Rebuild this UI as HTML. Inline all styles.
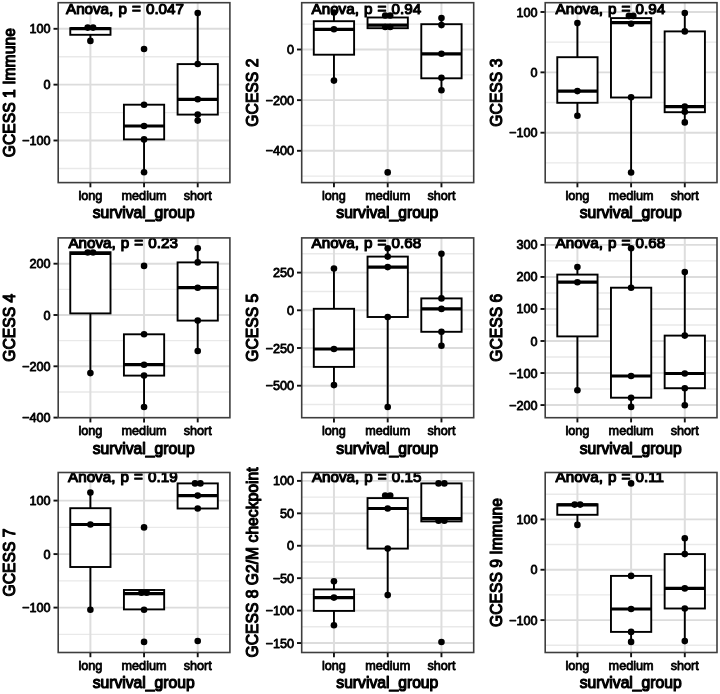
<!DOCTYPE html><html><head><meta charset="utf-8"><title>GCESS boxplots</title>
<style>html,body{margin:0;padding:0;background:#fff}svg{display:block}text{font-family:"Liberation Sans",Arial,Helvetica,sans-serif;fill:#000;stroke:#000;stroke-width:0.8px;stroke-linejoin:round}text.T,text.an{stroke-width:1.15px}</style></head><body>
<svg width="720" height="694" viewBox="0 0 720 694">
<rect width="720" height="694" fill="#fff"/>
<g>
<g id="p1">
<clipPath id="c0"><rect x="58.2" y="2.7" width="171.70" height="179.90"/></clipPath>
<g clip-path="url(#c0)">
<line x1="58.2" x2="229.9" y1="56.73" y2="56.73" stroke="#e9e9e9" stroke-width="1.4"/>
<line x1="58.2" x2="229.9" y1="112.58" y2="112.58" stroke="#e9e9e9" stroke-width="1.4"/>
<line x1="58.2" x2="229.9" y1="168.43" y2="168.43" stroke="#e9e9e9" stroke-width="1.4"/>
<line x1="58.2" x2="229.9" y1="28.80" y2="28.80" stroke="#dcdcdc" stroke-width="1.9"/>
<line x1="58.2" x2="229.9" y1="84.65" y2="84.65" stroke="#dcdcdc" stroke-width="1.9"/>
<line x1="58.2" x2="229.9" y1="140.50" y2="140.50" stroke="#dcdcdc" stroke-width="1.9"/>
<line x1="90.39" x2="90.39" y1="2.7" y2="182.6" stroke="#dddddd" stroke-width="2.0"/>
<line x1="144.05" x2="144.05" y1="2.7" y2="182.6" stroke="#dddddd" stroke-width="2.0"/>
<line x1="197.71" x2="197.71" y1="2.7" y2="182.6" stroke="#dddddd" stroke-width="2.0"/>
<line x1="90.39" x2="90.39" y1="34.80" y2="40.90" stroke="#000" stroke-width="1.9"/>
<rect x="70.27" y="28.20" width="40.24" height="6.60" fill="#fff" stroke="#000" stroke-width="1.9"/>
<line x1="70.27" x2="110.51" y1="28.60" y2="28.60" stroke="#000" stroke-width="3.2"/>
<line x1="144.05" x2="144.05" y1="139.40" y2="172.30" stroke="#000" stroke-width="1.9"/>
<rect x="123.93" y="104.70" width="40.24" height="34.70" fill="#fff" stroke="#000" stroke-width="1.9"/>
<line x1="123.93" x2="164.17" y1="126.00" y2="126.00" stroke="#000" stroke-width="3.2"/>
<line x1="197.71" x2="197.71" y1="13.00" y2="64.10" stroke="#000" stroke-width="1.9"/>
<line x1="197.71" x2="197.71" y1="114.60" y2="120.60" stroke="#000" stroke-width="1.9"/>
<rect x="177.59" y="64.10" width="40.24" height="50.50" fill="#fff" stroke="#000" stroke-width="1.9"/>
<line x1="177.59" x2="217.83" y1="99.40" y2="99.40" stroke="#000" stroke-width="3.2"/>
<circle cx="87.69" cy="27.60" r="3.3" fill="#000"/>
<circle cx="93.09" cy="27.60" r="3.3" fill="#000"/>
<circle cx="90.39" cy="40.90" r="3.3" fill="#000"/>
<circle cx="144.05" cy="49.00" r="3.3" fill="#000"/>
<circle cx="144.05" cy="104.70" r="3.3" fill="#000"/>
<circle cx="144.05" cy="126.00" r="3.3" fill="#000"/>
<circle cx="144.05" cy="139.40" r="3.3" fill="#000"/>
<circle cx="144.05" cy="172.30" r="3.3" fill="#000"/>
<circle cx="197.71" cy="13.00" r="3.3" fill="#000"/>
<circle cx="197.71" cy="64.00" r="3.3" fill="#000"/>
<circle cx="197.71" cy="99.30" r="3.3" fill="#000"/>
<circle cx="197.71" cy="114.60" r="3.3" fill="#000"/>
<circle cx="197.71" cy="120.60" r="3.3" fill="#000"/>
<text x="66.0" y="13.70" font-size="15.2" word-spacing="0.9" class="an">Anova, p = 0.047</text>
</g>
<rect x="58.2" y="2.7" width="171.70" height="179.90" fill="none" stroke="#3e3e3e" stroke-width="1.6"/>
<line x1="53.50" x2="57.70" y1="28.80" y2="28.80" stroke="#111" stroke-width="1.9"/>
<text x="50.60" y="33.30" font-size="12.65" text-anchor="end">100</text>
<line x1="53.50" x2="57.70" y1="84.65" y2="84.65" stroke="#111" stroke-width="1.9"/>
<text x="50.60" y="89.15" font-size="12.65" text-anchor="end">0</text>
<line x1="53.50" x2="57.70" y1="140.50" y2="140.50" stroke="#111" stroke-width="1.9"/>
<text x="50.60" y="145.00" font-size="12.65" text-anchor="end">−100</text>
<line x1="90.39" x2="90.39" y1="183.10" y2="187.30" stroke="#111" stroke-width="1.9"/>
<text x="90.39" y="199.60" font-size="12.65" text-anchor="middle">long</text>
<line x1="144.05" x2="144.05" y1="183.10" y2="187.30" stroke="#111" stroke-width="1.9"/>
<text x="144.05" y="199.60" font-size="12.65" text-anchor="middle">medium</text>
<line x1="197.71" x2="197.71" y1="183.10" y2="187.30" stroke="#111" stroke-width="1.9"/>
<text x="197.71" y="199.60" font-size="12.65" text-anchor="middle">short</text>
<text x="143.65" y="218.40" font-size="15.7" text-anchor="middle" class="T">survival_group</text>
<text transform="translate(14.7,92.65) rotate(-90)" font-size="15.7" text-anchor="middle" class="T">GCESS 1 Immune</text>
</g>
<g id="p2">
<clipPath id="c1"><rect x="301.7" y="2.7" width="172.00" height="179.90"/></clipPath>
<g clip-path="url(#c1)">
<line x1="301.7" x2="473.7" y1="24.17" y2="24.17" stroke="#e9e9e9" stroke-width="1.4"/>
<line x1="301.7" x2="473.7" y1="74.83" y2="74.83" stroke="#e9e9e9" stroke-width="1.4"/>
<line x1="301.7" x2="473.7" y1="125.48" y2="125.48" stroke="#e9e9e9" stroke-width="1.4"/>
<line x1="301.7" x2="473.7" y1="176.12" y2="176.12" stroke="#e9e9e9" stroke-width="1.4"/>
<line x1="301.7" x2="473.7" y1="49.50" y2="49.50" stroke="#dcdcdc" stroke-width="1.9"/>
<line x1="301.7" x2="473.7" y1="100.15" y2="100.15" stroke="#dcdcdc" stroke-width="1.9"/>
<line x1="301.7" x2="473.7" y1="150.80" y2="150.80" stroke="#dcdcdc" stroke-width="1.9"/>
<line x1="333.95" x2="333.95" y1="2.7" y2="182.6" stroke="#dddddd" stroke-width="2.0"/>
<line x1="387.70" x2="387.70" y1="2.7" y2="182.6" stroke="#dddddd" stroke-width="2.0"/>
<line x1="441.45" x2="441.45" y1="2.7" y2="182.6" stroke="#dddddd" stroke-width="2.0"/>
<line x1="333.95" x2="333.95" y1="12.50" y2="21.20" stroke="#000" stroke-width="1.9"/>
<line x1="333.95" x2="333.95" y1="54.70" y2="80.60" stroke="#000" stroke-width="1.9"/>
<rect x="313.79" y="21.20" width="40.31" height="33.50" fill="#fff" stroke="#000" stroke-width="1.9"/>
<line x1="313.79" x2="354.11" y1="29.30" y2="29.30" stroke="#000" stroke-width="3.2"/>
<line x1="387.70" x2="387.70" y1="15.50" y2="17.50" stroke="#000" stroke-width="1.9"/>
<rect x="367.54" y="17.50" width="40.31" height="10.70" fill="#fff" stroke="#000" stroke-width="1.9"/>
<line x1="367.54" x2="407.86" y1="25.20" y2="25.20" stroke="#000" stroke-width="3.2"/>
<line x1="441.45" x2="441.45" y1="18.10" y2="24.20" stroke="#000" stroke-width="1.9"/>
<line x1="441.45" x2="441.45" y1="78.30" y2="90.30" stroke="#000" stroke-width="1.9"/>
<rect x="421.29" y="24.20" width="40.31" height="54.10" fill="#fff" stroke="#000" stroke-width="1.9"/>
<line x1="421.29" x2="461.61" y1="53.80" y2="53.80" stroke="#000" stroke-width="3.2"/>
<circle cx="333.95" cy="12.50" r="3.3" fill="#000"/>
<circle cx="333.95" cy="29.30" r="3.3" fill="#000"/>
<circle cx="333.95" cy="80.60" r="3.3" fill="#000"/>
<circle cx="385.20" cy="15.50" r="3.3" fill="#000"/>
<circle cx="390.20" cy="15.50" r="3.3" fill="#000"/>
<circle cx="385.20" cy="27.00" r="3.3" fill="#000"/>
<circle cx="390.20" cy="27.00" r="3.3" fill="#000"/>
<circle cx="387.70" cy="172.40" r="3.3" fill="#000"/>
<circle cx="441.45" cy="18.10" r="3.3" fill="#000"/>
<circle cx="441.45" cy="25.10" r="3.3" fill="#000"/>
<circle cx="441.45" cy="53.80" r="3.3" fill="#000"/>
<circle cx="441.45" cy="77.80" r="3.3" fill="#000"/>
<circle cx="441.45" cy="90.30" r="3.3" fill="#000"/>
<text x="311.6" y="13.70" font-size="15.2" word-spacing="0.9" class="an">Anova, p = 0.94</text>
</g>
<rect x="301.7" y="2.7" width="172.00" height="179.90" fill="none" stroke="#3e3e3e" stroke-width="1.6"/>
<line x1="297.00" x2="301.20" y1="49.50" y2="49.50" stroke="#111" stroke-width="1.9"/>
<text x="294.10" y="54.00" font-size="12.65" text-anchor="end">0</text>
<line x1="297.00" x2="301.20" y1="100.15" y2="100.15" stroke="#111" stroke-width="1.9"/>
<text x="294.10" y="104.65" font-size="12.65" text-anchor="end">−200</text>
<line x1="297.00" x2="301.20" y1="150.80" y2="150.80" stroke="#111" stroke-width="1.9"/>
<text x="294.10" y="155.30" font-size="12.65" text-anchor="end">−400</text>
<line x1="333.95" x2="333.95" y1="183.10" y2="187.30" stroke="#111" stroke-width="1.9"/>
<text x="333.95" y="199.60" font-size="12.65" text-anchor="middle">long</text>
<line x1="387.70" x2="387.70" y1="183.10" y2="187.30" stroke="#111" stroke-width="1.9"/>
<text x="387.70" y="199.60" font-size="12.65" text-anchor="middle">medium</text>
<line x1="441.45" x2="441.45" y1="183.10" y2="187.30" stroke="#111" stroke-width="1.9"/>
<text x="441.45" y="199.60" font-size="12.65" text-anchor="middle">short</text>
<text x="387.30" y="218.40" font-size="15.7" text-anchor="middle" class="T">survival_group</text>
<text transform="translate(257.6,92.65) rotate(-90)" font-size="15.7" text-anchor="middle" class="T">GCESS 2</text>
</g>
<g id="p3">
<clipPath id="c2"><rect x="545.2" y="2.7" width="171.80" height="179.90"/></clipPath>
<g clip-path="url(#c2)">
<line x1="545.2" x2="717.0" y1="42.17" y2="42.17" stroke="#e9e9e9" stroke-width="1.4"/>
<line x1="545.2" x2="717.0" y1="102.53" y2="102.53" stroke="#e9e9e9" stroke-width="1.4"/>
<line x1="545.2" x2="717.0" y1="162.87" y2="162.87" stroke="#e9e9e9" stroke-width="1.4"/>
<line x1="545.2" x2="717.0" y1="12.00" y2="12.00" stroke="#dcdcdc" stroke-width="1.9"/>
<line x1="545.2" x2="717.0" y1="72.35" y2="72.35" stroke="#dcdcdc" stroke-width="1.9"/>
<line x1="545.2" x2="717.0" y1="132.70" y2="132.70" stroke="#dcdcdc" stroke-width="1.9"/>
<line x1="577.41" x2="577.41" y1="2.7" y2="182.6" stroke="#dddddd" stroke-width="2.0"/>
<line x1="631.10" x2="631.10" y1="2.7" y2="182.6" stroke="#dddddd" stroke-width="2.0"/>
<line x1="684.79" x2="684.79" y1="2.7" y2="182.6" stroke="#dddddd" stroke-width="2.0"/>
<line x1="577.41" x2="577.41" y1="23.10" y2="57.20" stroke="#000" stroke-width="1.9"/>
<line x1="577.41" x2="577.41" y1="102.80" y2="115.70" stroke="#000" stroke-width="1.9"/>
<rect x="557.28" y="57.20" width="40.27" height="45.60" fill="#fff" stroke="#000" stroke-width="1.9"/>
<line x1="557.28" x2="597.55" y1="91.10" y2="91.10" stroke="#000" stroke-width="3.2"/>
<line x1="631.10" x2="631.10" y1="15.90" y2="18.10" stroke="#000" stroke-width="1.9"/>
<line x1="631.10" x2="631.10" y1="97.50" y2="172.50" stroke="#000" stroke-width="1.9"/>
<rect x="610.97" y="18.10" width="40.27" height="79.40" fill="#fff" stroke="#000" stroke-width="1.9"/>
<line x1="610.97" x2="651.23" y1="22.60" y2="22.60" stroke="#000" stroke-width="3.2"/>
<line x1="684.79" x2="684.79" y1="13.00" y2="31.40" stroke="#000" stroke-width="1.9"/>
<line x1="684.79" x2="684.79" y1="112.20" y2="122.40" stroke="#000" stroke-width="1.9"/>
<rect x="664.65" y="31.40" width="40.27" height="80.80" fill="#fff" stroke="#000" stroke-width="1.9"/>
<line x1="664.65" x2="704.92" y1="106.60" y2="106.60" stroke="#000" stroke-width="3.2"/>
<circle cx="577.41" cy="23.10" r="3.3" fill="#000"/>
<circle cx="577.41" cy="91.10" r="3.3" fill="#000"/>
<circle cx="577.41" cy="115.70" r="3.3" fill="#000"/>
<circle cx="628.90" cy="15.90" r="3.3" fill="#000"/>
<circle cx="633.30" cy="15.90" r="3.3" fill="#000"/>
<circle cx="631.10" cy="23.70" r="3.3" fill="#000"/>
<circle cx="631.10" cy="97.30" r="3.3" fill="#000"/>
<circle cx="631.10" cy="172.50" r="3.3" fill="#000"/>
<circle cx="684.79" cy="13.00" r="3.3" fill="#000"/>
<circle cx="684.79" cy="31.40" r="3.3" fill="#000"/>
<circle cx="684.79" cy="106.50" r="3.3" fill="#000"/>
<circle cx="684.79" cy="111.80" r="3.3" fill="#000"/>
<circle cx="684.79" cy="122.40" r="3.3" fill="#000"/>
<text x="555.6" y="13.70" font-size="15.2" word-spacing="0.9" class="an">Anova, p = 0.94</text>
</g>
<rect x="545.2" y="2.7" width="171.80" height="179.90" fill="none" stroke="#3e3e3e" stroke-width="1.6"/>
<line x1="540.50" x2="544.70" y1="12.00" y2="12.00" stroke="#111" stroke-width="1.9"/>
<text x="537.60" y="16.50" font-size="12.65" text-anchor="end">100</text>
<line x1="540.50" x2="544.70" y1="72.35" y2="72.35" stroke="#111" stroke-width="1.9"/>
<text x="537.60" y="76.85" font-size="12.65" text-anchor="end">0</text>
<line x1="540.50" x2="544.70" y1="132.70" y2="132.70" stroke="#111" stroke-width="1.9"/>
<text x="537.60" y="137.20" font-size="12.65" text-anchor="end">−100</text>
<line x1="577.41" x2="577.41" y1="183.10" y2="187.30" stroke="#111" stroke-width="1.9"/>
<text x="577.41" y="199.60" font-size="12.65" text-anchor="middle">long</text>
<line x1="631.10" x2="631.10" y1="183.10" y2="187.30" stroke="#111" stroke-width="1.9"/>
<text x="631.10" y="199.60" font-size="12.65" text-anchor="middle">medium</text>
<line x1="684.79" x2="684.79" y1="183.10" y2="187.30" stroke="#111" stroke-width="1.9"/>
<text x="684.79" y="199.60" font-size="12.65" text-anchor="middle">short</text>
<text x="630.70" y="218.40" font-size="15.7" text-anchor="middle" class="T">survival_group</text>
<text transform="translate(501.7,92.65) rotate(-90)" font-size="15.7" text-anchor="middle" class="T">GCESS 3</text>
</g>
<g id="p4">
<clipPath id="c3"><rect x="58.2" y="237.9" width="171.70" height="179.80"/></clipPath>
<g clip-path="url(#c3)">
<line x1="58.2" x2="229.9" y1="289.35" y2="289.35" stroke="#e9e9e9" stroke-width="1.4"/>
<line x1="58.2" x2="229.9" y1="340.65" y2="340.65" stroke="#e9e9e9" stroke-width="1.4"/>
<line x1="58.2" x2="229.9" y1="391.95" y2="391.95" stroke="#e9e9e9" stroke-width="1.4"/>
<line x1="58.2" x2="229.9" y1="263.70" y2="263.70" stroke="#dcdcdc" stroke-width="1.9"/>
<line x1="58.2" x2="229.9" y1="315.00" y2="315.00" stroke="#dcdcdc" stroke-width="1.9"/>
<line x1="58.2" x2="229.9" y1="366.30" y2="366.30" stroke="#dcdcdc" stroke-width="1.9"/>
<line x1="58.2" x2="229.9" y1="417.60" y2="417.60" stroke="#dcdcdc" stroke-width="1.9"/>
<line x1="90.39" x2="90.39" y1="237.9" y2="417.7" stroke="#dddddd" stroke-width="2.0"/>
<line x1="144.05" x2="144.05" y1="237.9" y2="417.7" stroke="#dddddd" stroke-width="2.0"/>
<line x1="197.71" x2="197.71" y1="237.9" y2="417.7" stroke="#dddddd" stroke-width="2.0"/>
<line x1="90.39" x2="90.39" y1="313.40" y2="373.10" stroke="#000" stroke-width="1.9"/>
<rect x="70.27" y="252.20" width="40.24" height="61.20" fill="#fff" stroke="#000" stroke-width="1.9"/>
<line x1="70.27" x2="110.51" y1="253.50" y2="253.50" stroke="#000" stroke-width="3.2"/>
<line x1="144.05" x2="144.05" y1="375.60" y2="407.00" stroke="#000" stroke-width="1.9"/>
<rect x="123.93" y="334.30" width="40.24" height="41.30" fill="#fff" stroke="#000" stroke-width="1.9"/>
<line x1="123.93" x2="164.17" y1="364.70" y2="364.70" stroke="#000" stroke-width="3.2"/>
<line x1="197.71" x2="197.71" y1="248.20" y2="262.40" stroke="#000" stroke-width="1.9"/>
<line x1="197.71" x2="197.71" y1="320.60" y2="351.00" stroke="#000" stroke-width="1.9"/>
<rect x="177.59" y="262.40" width="40.24" height="58.20" fill="#fff" stroke="#000" stroke-width="1.9"/>
<line x1="177.59" x2="217.83" y1="287.70" y2="287.70" stroke="#000" stroke-width="3.2"/>
<circle cx="87.69" cy="252.50" r="3.3" fill="#000"/>
<circle cx="93.09" cy="252.50" r="3.3" fill="#000"/>
<circle cx="90.39" cy="373.10" r="3.3" fill="#000"/>
<circle cx="144.05" cy="265.90" r="3.3" fill="#000"/>
<circle cx="144.05" cy="334.30" r="3.3" fill="#000"/>
<circle cx="144.05" cy="364.70" r="3.3" fill="#000"/>
<circle cx="144.05" cy="375.60" r="3.3" fill="#000"/>
<circle cx="144.05" cy="407.00" r="3.3" fill="#000"/>
<circle cx="197.71" cy="248.20" r="3.3" fill="#000"/>
<circle cx="197.71" cy="262.40" r="3.3" fill="#000"/>
<circle cx="197.71" cy="287.70" r="3.3" fill="#000"/>
<circle cx="197.71" cy="320.60" r="3.3" fill="#000"/>
<circle cx="197.71" cy="351.00" r="3.3" fill="#000"/>
<text x="68.4" y="248.40" font-size="15.2" word-spacing="0.9" class="an">Anova, p = 0.23</text>
</g>
<rect x="58.2" y="237.9" width="171.70" height="179.80" fill="none" stroke="#3e3e3e" stroke-width="1.6"/>
<line x1="53.50" x2="57.70" y1="263.70" y2="263.70" stroke="#111" stroke-width="1.9"/>
<text x="50.60" y="268.20" font-size="12.65" text-anchor="end">200</text>
<line x1="53.50" x2="57.70" y1="315.00" y2="315.00" stroke="#111" stroke-width="1.9"/>
<text x="50.60" y="319.50" font-size="12.65" text-anchor="end">0</text>
<line x1="53.50" x2="57.70" y1="366.30" y2="366.30" stroke="#111" stroke-width="1.9"/>
<text x="50.60" y="370.80" font-size="12.65" text-anchor="end">−200</text>
<line x1="53.50" x2="57.70" y1="417.60" y2="417.60" stroke="#111" stroke-width="1.9"/>
<text x="50.60" y="422.10" font-size="12.65" text-anchor="end">−400</text>
<line x1="90.39" x2="90.39" y1="418.20" y2="422.40" stroke="#111" stroke-width="1.9"/>
<text x="90.39" y="434.80" font-size="12.65" text-anchor="middle">long</text>
<line x1="144.05" x2="144.05" y1="418.20" y2="422.40" stroke="#111" stroke-width="1.9"/>
<text x="144.05" y="434.80" font-size="12.65" text-anchor="middle">medium</text>
<line x1="197.71" x2="197.71" y1="418.20" y2="422.40" stroke="#111" stroke-width="1.9"/>
<text x="197.71" y="434.80" font-size="12.65" text-anchor="middle">short</text>
<text x="143.65" y="453.90" font-size="15.7" text-anchor="middle" class="T">survival_group</text>
<text transform="translate(14.7,327.80) rotate(-90)" font-size="15.7" text-anchor="middle" class="T">GCESS 4</text>
</g>
<g id="p5">
<clipPath id="c4"><rect x="301.7" y="237.9" width="172.00" height="179.80"/></clipPath>
<g clip-path="url(#c4)">
<line x1="301.7" x2="473.7" y1="253.75" y2="253.75" stroke="#e9e9e9" stroke-width="1.4"/>
<line x1="301.7" x2="473.7" y1="291.45" y2="291.45" stroke="#e9e9e9" stroke-width="1.4"/>
<line x1="301.7" x2="473.7" y1="329.15" y2="329.15" stroke="#e9e9e9" stroke-width="1.4"/>
<line x1="301.7" x2="473.7" y1="366.85" y2="366.85" stroke="#e9e9e9" stroke-width="1.4"/>
<line x1="301.7" x2="473.7" y1="404.55" y2="404.55" stroke="#e9e9e9" stroke-width="1.4"/>
<line x1="301.7" x2="473.7" y1="272.60" y2="272.60" stroke="#dcdcdc" stroke-width="1.9"/>
<line x1="301.7" x2="473.7" y1="310.30" y2="310.30" stroke="#dcdcdc" stroke-width="1.9"/>
<line x1="301.7" x2="473.7" y1="348.00" y2="348.00" stroke="#dcdcdc" stroke-width="1.9"/>
<line x1="301.7" x2="473.7" y1="385.70" y2="385.70" stroke="#dcdcdc" stroke-width="1.9"/>
<line x1="333.95" x2="333.95" y1="237.9" y2="417.7" stroke="#dddddd" stroke-width="2.0"/>
<line x1="387.70" x2="387.70" y1="237.9" y2="417.7" stroke="#dddddd" stroke-width="2.0"/>
<line x1="441.45" x2="441.45" y1="237.9" y2="417.7" stroke="#dddddd" stroke-width="2.0"/>
<line x1="333.95" x2="333.95" y1="268.50" y2="308.80" stroke="#000" stroke-width="1.9"/>
<line x1="333.95" x2="333.95" y1="366.90" y2="385.10" stroke="#000" stroke-width="1.9"/>
<rect x="313.79" y="308.80" width="40.31" height="58.10" fill="#fff" stroke="#000" stroke-width="1.9"/>
<line x1="313.79" x2="354.11" y1="349.00" y2="349.00" stroke="#000" stroke-width="3.2"/>
<line x1="387.70" x2="387.70" y1="248.20" y2="256.60" stroke="#000" stroke-width="1.9"/>
<line x1="387.70" x2="387.70" y1="317.00" y2="407.00" stroke="#000" stroke-width="1.9"/>
<rect x="367.54" y="256.60" width="40.31" height="60.40" fill="#fff" stroke="#000" stroke-width="1.9"/>
<line x1="367.54" x2="407.86" y1="267.10" y2="267.10" stroke="#000" stroke-width="3.2"/>
<line x1="441.45" x2="441.45" y1="253.70" y2="298.40" stroke="#000" stroke-width="1.9"/>
<line x1="441.45" x2="441.45" y1="331.80" y2="345.70" stroke="#000" stroke-width="1.9"/>
<rect x="421.29" y="298.40" width="40.31" height="33.40" fill="#fff" stroke="#000" stroke-width="1.9"/>
<line x1="421.29" x2="461.61" y1="308.90" y2="308.90" stroke="#000" stroke-width="3.2"/>
<circle cx="333.95" cy="268.50" r="3.3" fill="#000"/>
<circle cx="333.95" cy="349.00" r="3.3" fill="#000"/>
<circle cx="333.95" cy="385.10" r="3.3" fill="#000"/>
<circle cx="387.70" cy="248.20" r="3.3" fill="#000"/>
<circle cx="387.70" cy="256.60" r="3.3" fill="#000"/>
<circle cx="387.70" cy="267.10" r="3.3" fill="#000"/>
<circle cx="387.70" cy="317.00" r="3.3" fill="#000"/>
<circle cx="387.70" cy="407.00" r="3.3" fill="#000"/>
<circle cx="441.45" cy="253.70" r="3.3" fill="#000"/>
<circle cx="441.45" cy="298.40" r="3.3" fill="#000"/>
<circle cx="441.45" cy="308.90" r="3.3" fill="#000"/>
<circle cx="441.45" cy="331.80" r="3.3" fill="#000"/>
<circle cx="441.45" cy="345.70" r="3.3" fill="#000"/>
<text x="311.6" y="248.40" font-size="15.2" word-spacing="0.9" class="an">Anova, p = 0.68</text>
</g>
<rect x="301.7" y="237.9" width="172.00" height="179.80" fill="none" stroke="#3e3e3e" stroke-width="1.6"/>
<line x1="297.00" x2="301.20" y1="272.60" y2="272.60" stroke="#111" stroke-width="1.9"/>
<text x="294.10" y="277.10" font-size="12.65" text-anchor="end">250</text>
<line x1="297.00" x2="301.20" y1="310.30" y2="310.30" stroke="#111" stroke-width="1.9"/>
<text x="294.10" y="314.80" font-size="12.65" text-anchor="end">0</text>
<line x1="297.00" x2="301.20" y1="348.00" y2="348.00" stroke="#111" stroke-width="1.9"/>
<text x="294.10" y="352.50" font-size="12.65" text-anchor="end">−250</text>
<line x1="297.00" x2="301.20" y1="385.70" y2="385.70" stroke="#111" stroke-width="1.9"/>
<text x="294.10" y="390.20" font-size="12.65" text-anchor="end">−500</text>
<line x1="333.95" x2="333.95" y1="418.20" y2="422.40" stroke="#111" stroke-width="1.9"/>
<text x="333.95" y="434.80" font-size="12.65" text-anchor="middle">long</text>
<line x1="387.70" x2="387.70" y1="418.20" y2="422.40" stroke="#111" stroke-width="1.9"/>
<text x="387.70" y="434.80" font-size="12.65" text-anchor="middle">medium</text>
<line x1="441.45" x2="441.45" y1="418.20" y2="422.40" stroke="#111" stroke-width="1.9"/>
<text x="441.45" y="434.80" font-size="12.65" text-anchor="middle">short</text>
<text x="387.30" y="453.90" font-size="15.7" text-anchor="middle" class="T">survival_group</text>
<text transform="translate(257.6,327.80) rotate(-90)" font-size="15.7" text-anchor="middle" class="T">GCESS 5</text>
</g>
<g id="p6">
<clipPath id="c5"><rect x="545.2" y="237.9" width="171.80" height="179.80"/></clipPath>
<g clip-path="url(#c5)">
<line x1="545.2" x2="717.0" y1="260.92" y2="260.92" stroke="#e9e9e9" stroke-width="1.4"/>
<line x1="545.2" x2="717.0" y1="292.95" y2="292.95" stroke="#e9e9e9" stroke-width="1.4"/>
<line x1="545.2" x2="717.0" y1="324.98" y2="324.98" stroke="#e9e9e9" stroke-width="1.4"/>
<line x1="545.2" x2="717.0" y1="357.02" y2="357.02" stroke="#e9e9e9" stroke-width="1.4"/>
<line x1="545.2" x2="717.0" y1="389.05" y2="389.05" stroke="#e9e9e9" stroke-width="1.4"/>
<line x1="545.2" x2="717.0" y1="244.90" y2="244.90" stroke="#dcdcdc" stroke-width="1.9"/>
<line x1="545.2" x2="717.0" y1="276.93" y2="276.93" stroke="#dcdcdc" stroke-width="1.9"/>
<line x1="545.2" x2="717.0" y1="308.97" y2="308.97" stroke="#dcdcdc" stroke-width="1.9"/>
<line x1="545.2" x2="717.0" y1="341.00" y2="341.00" stroke="#dcdcdc" stroke-width="1.9"/>
<line x1="545.2" x2="717.0" y1="373.03" y2="373.03" stroke="#dcdcdc" stroke-width="1.9"/>
<line x1="545.2" x2="717.0" y1="405.07" y2="405.07" stroke="#dcdcdc" stroke-width="1.9"/>
<line x1="577.41" x2="577.41" y1="237.9" y2="417.7" stroke="#dddddd" stroke-width="2.0"/>
<line x1="631.10" x2="631.10" y1="237.9" y2="417.7" stroke="#dddddd" stroke-width="2.0"/>
<line x1="684.79" x2="684.79" y1="237.9" y2="417.7" stroke="#dddddd" stroke-width="2.0"/>
<line x1="577.41" x2="577.41" y1="267.10" y2="274.60" stroke="#000" stroke-width="1.9"/>
<line x1="577.41" x2="577.41" y1="336.40" y2="390.20" stroke="#000" stroke-width="1.9"/>
<rect x="557.28" y="274.60" width="40.27" height="61.80" fill="#fff" stroke="#000" stroke-width="1.9"/>
<line x1="557.28" x2="597.55" y1="282.20" y2="282.20" stroke="#000" stroke-width="3.2"/>
<line x1="631.10" x2="631.10" y1="248.20" y2="287.70" stroke="#000" stroke-width="1.9"/>
<line x1="631.10" x2="631.10" y1="397.70" y2="406.90" stroke="#000" stroke-width="1.9"/>
<rect x="610.97" y="287.70" width="40.27" height="110.00" fill="#fff" stroke="#000" stroke-width="1.9"/>
<line x1="610.97" x2="651.23" y1="376.00" y2="376.00" stroke="#000" stroke-width="3.2"/>
<line x1="684.79" x2="684.79" y1="272.10" y2="335.60" stroke="#000" stroke-width="1.9"/>
<line x1="684.79" x2="684.79" y1="388.20" y2="405.30" stroke="#000" stroke-width="1.9"/>
<rect x="664.65" y="335.60" width="40.27" height="52.60" fill="#fff" stroke="#000" stroke-width="1.9"/>
<line x1="664.65" x2="704.92" y1="373.50" y2="373.50" stroke="#000" stroke-width="3.2"/>
<circle cx="577.41" cy="267.10" r="3.3" fill="#000"/>
<circle cx="577.41" cy="282.20" r="3.3" fill="#000"/>
<circle cx="577.41" cy="390.20" r="3.3" fill="#000"/>
<circle cx="631.10" cy="248.20" r="3.3" fill="#000"/>
<circle cx="631.10" cy="287.70" r="3.3" fill="#000"/>
<circle cx="631.10" cy="376.00" r="3.3" fill="#000"/>
<circle cx="631.10" cy="397.70" r="3.3" fill="#000"/>
<circle cx="631.10" cy="406.90" r="3.3" fill="#000"/>
<circle cx="684.79" cy="272.10" r="3.3" fill="#000"/>
<circle cx="684.79" cy="335.60" r="3.3" fill="#000"/>
<circle cx="684.79" cy="373.50" r="3.3" fill="#000"/>
<circle cx="684.79" cy="388.20" r="3.3" fill="#000"/>
<circle cx="684.79" cy="405.30" r="3.3" fill="#000"/>
<text x="555.6" y="248.40" font-size="15.2" word-spacing="0.9" class="an">Anova, p = 0.68</text>
</g>
<rect x="545.2" y="237.9" width="171.80" height="179.80" fill="none" stroke="#3e3e3e" stroke-width="1.6"/>
<line x1="540.50" x2="544.70" y1="244.90" y2="244.90" stroke="#111" stroke-width="1.9"/>
<text x="537.60" y="249.40" font-size="12.65" text-anchor="end">300</text>
<line x1="540.50" x2="544.70" y1="276.93" y2="276.93" stroke="#111" stroke-width="1.9"/>
<text x="537.60" y="281.43" font-size="12.65" text-anchor="end">200</text>
<line x1="540.50" x2="544.70" y1="308.97" y2="308.97" stroke="#111" stroke-width="1.9"/>
<text x="537.60" y="313.47" font-size="12.65" text-anchor="end">100</text>
<line x1="540.50" x2="544.70" y1="341.00" y2="341.00" stroke="#111" stroke-width="1.9"/>
<text x="537.60" y="345.50" font-size="12.65" text-anchor="end">0</text>
<line x1="540.50" x2="544.70" y1="373.03" y2="373.03" stroke="#111" stroke-width="1.9"/>
<text x="537.60" y="377.53" font-size="12.65" text-anchor="end">−100</text>
<line x1="540.50" x2="544.70" y1="405.07" y2="405.07" stroke="#111" stroke-width="1.9"/>
<text x="537.60" y="409.57" font-size="12.65" text-anchor="end">−200</text>
<line x1="577.41" x2="577.41" y1="418.20" y2="422.40" stroke="#111" stroke-width="1.9"/>
<text x="577.41" y="434.80" font-size="12.65" text-anchor="middle">long</text>
<line x1="631.10" x2="631.10" y1="418.20" y2="422.40" stroke="#111" stroke-width="1.9"/>
<text x="631.10" y="434.80" font-size="12.65" text-anchor="middle">medium</text>
<line x1="684.79" x2="684.79" y1="418.20" y2="422.40" stroke="#111" stroke-width="1.9"/>
<text x="684.79" y="434.80" font-size="12.65" text-anchor="middle">short</text>
<text x="630.70" y="453.90" font-size="15.7" text-anchor="middle" class="T">survival_group</text>
<text transform="translate(501.7,327.80) rotate(-90)" font-size="15.7" text-anchor="middle" class="T">GCESS 6</text>
</g>
<g id="p7">
<clipPath id="c6"><rect x="58.2" y="472.5" width="171.70" height="180.00"/></clipPath>
<g clip-path="url(#c6)">
<line x1="58.2" x2="229.9" y1="527.35" y2="527.35" stroke="#e9e9e9" stroke-width="1.4"/>
<line x1="58.2" x2="229.9" y1="580.85" y2="580.85" stroke="#e9e9e9" stroke-width="1.4"/>
<line x1="58.2" x2="229.9" y1="634.35" y2="634.35" stroke="#e9e9e9" stroke-width="1.4"/>
<line x1="58.2" x2="229.9" y1="500.60" y2="500.60" stroke="#dcdcdc" stroke-width="1.9"/>
<line x1="58.2" x2="229.9" y1="554.10" y2="554.10" stroke="#dcdcdc" stroke-width="1.9"/>
<line x1="58.2" x2="229.9" y1="607.60" y2="607.60" stroke="#dcdcdc" stroke-width="1.9"/>
<line x1="90.39" x2="90.39" y1="472.5" y2="652.5" stroke="#dddddd" stroke-width="2.0"/>
<line x1="144.05" x2="144.05" y1="472.5" y2="652.5" stroke="#dddddd" stroke-width="2.0"/>
<line x1="197.71" x2="197.71" y1="472.5" y2="652.5" stroke="#dddddd" stroke-width="2.0"/>
<line x1="90.39" x2="90.39" y1="492.60" y2="508.20" stroke="#000" stroke-width="1.9"/>
<line x1="90.39" x2="90.39" y1="567.00" y2="609.80" stroke="#000" stroke-width="1.9"/>
<rect x="70.27" y="508.20" width="40.24" height="58.80" fill="#fff" stroke="#000" stroke-width="1.9"/>
<line x1="70.27" x2="110.51" y1="524.50" y2="524.50" stroke="#000" stroke-width="3.2"/>
<rect x="123.93" y="590.00" width="40.24" height="19.40" fill="#fff" stroke="#000" stroke-width="1.9"/>
<line x1="123.93" x2="164.17" y1="593.60" y2="593.60" stroke="#000" stroke-width="3.2"/>
<rect x="177.59" y="483.40" width="40.24" height="25.10" fill="#fff" stroke="#000" stroke-width="1.9"/>
<line x1="177.59" x2="217.83" y1="495.60" y2="495.60" stroke="#000" stroke-width="3.2"/>
<circle cx="90.39" cy="492.60" r="3.3" fill="#000"/>
<circle cx="90.39" cy="524.50" r="3.3" fill="#000"/>
<circle cx="90.39" cy="609.80" r="3.3" fill="#000"/>
<circle cx="144.05" cy="527.40" r="3.3" fill="#000"/>
<circle cx="141.45" cy="592.70" r="3.3" fill="#000"/>
<circle cx="146.65" cy="592.70" r="3.3" fill="#000"/>
<circle cx="144.05" cy="609.80" r="3.3" fill="#000"/>
<circle cx="144.05" cy="641.90" r="3.3" fill="#000"/>
<circle cx="195.01" cy="483.40" r="3.3" fill="#000"/>
<circle cx="200.41" cy="483.40" r="3.3" fill="#000"/>
<circle cx="197.71" cy="495.60" r="3.3" fill="#000"/>
<circle cx="197.71" cy="508.50" r="3.3" fill="#000"/>
<circle cx="197.71" cy="641.00" r="3.3" fill="#000"/>
<text x="68.1" y="482.30" font-size="15.2" word-spacing="0.9" class="an">Anova, p = 0.19</text>
</g>
<rect x="58.2" y="472.5" width="171.70" height="180.00" fill="none" stroke="#3e3e3e" stroke-width="1.6"/>
<line x1="53.50" x2="57.70" y1="500.60" y2="500.60" stroke="#111" stroke-width="1.9"/>
<text x="50.60" y="505.10" font-size="12.65" text-anchor="end">100</text>
<line x1="53.50" x2="57.70" y1="554.10" y2="554.10" stroke="#111" stroke-width="1.9"/>
<text x="50.60" y="558.60" font-size="12.65" text-anchor="end">0</text>
<line x1="53.50" x2="57.70" y1="607.60" y2="607.60" stroke="#111" stroke-width="1.9"/>
<text x="50.60" y="612.10" font-size="12.65" text-anchor="end">−100</text>
<line x1="90.39" x2="90.39" y1="653.00" y2="657.20" stroke="#111" stroke-width="1.9"/>
<text x="90.39" y="669.80" font-size="12.65" text-anchor="middle">long</text>
<line x1="144.05" x2="144.05" y1="653.00" y2="657.20" stroke="#111" stroke-width="1.9"/>
<text x="144.05" y="669.80" font-size="12.65" text-anchor="middle">medium</text>
<line x1="197.71" x2="197.71" y1="653.00" y2="657.20" stroke="#111" stroke-width="1.9"/>
<text x="197.71" y="669.80" font-size="12.65" text-anchor="middle">short</text>
<text x="143.65" y="688.30" font-size="15.7" text-anchor="middle" class="T">survival_group</text>
<text transform="translate(14.7,562.50) rotate(-90)" font-size="15.7" text-anchor="middle" class="T">GCESS 7</text>
</g>
<g id="p8">
<clipPath id="c7"><rect x="301.7" y="472.5" width="172.00" height="180.00"/></clipPath>
<g clip-path="url(#c7)">
<line x1="301.7" x2="473.7" y1="497.11" y2="497.11" stroke="#e9e9e9" stroke-width="1.4"/>
<line x1="301.7" x2="473.7" y1="529.54" y2="529.54" stroke="#e9e9e9" stroke-width="1.4"/>
<line x1="301.7" x2="473.7" y1="561.96" y2="561.96" stroke="#e9e9e9" stroke-width="1.4"/>
<line x1="301.7" x2="473.7" y1="594.39" y2="594.39" stroke="#e9e9e9" stroke-width="1.4"/>
<line x1="301.7" x2="473.7" y1="626.81" y2="626.81" stroke="#e9e9e9" stroke-width="1.4"/>
<line x1="301.7" x2="473.7" y1="480.90" y2="480.90" stroke="#dcdcdc" stroke-width="1.9"/>
<line x1="301.7" x2="473.7" y1="513.33" y2="513.33" stroke="#dcdcdc" stroke-width="1.9"/>
<line x1="301.7" x2="473.7" y1="545.75" y2="545.75" stroke="#dcdcdc" stroke-width="1.9"/>
<line x1="301.7" x2="473.7" y1="578.17" y2="578.17" stroke="#dcdcdc" stroke-width="1.9"/>
<line x1="301.7" x2="473.7" y1="610.60" y2="610.60" stroke="#dcdcdc" stroke-width="1.9"/>
<line x1="301.7" x2="473.7" y1="643.03" y2="643.03" stroke="#dcdcdc" stroke-width="1.9"/>
<line x1="333.95" x2="333.95" y1="472.5" y2="652.5" stroke="#dddddd" stroke-width="2.0"/>
<line x1="387.70" x2="387.70" y1="472.5" y2="652.5" stroke="#dddddd" stroke-width="2.0"/>
<line x1="441.45" x2="441.45" y1="472.5" y2="652.5" stroke="#dddddd" stroke-width="2.0"/>
<line x1="333.95" x2="333.95" y1="581.30" y2="589.40" stroke="#000" stroke-width="1.9"/>
<line x1="333.95" x2="333.95" y1="610.90" y2="625.30" stroke="#000" stroke-width="1.9"/>
<rect x="313.79" y="589.40" width="40.31" height="21.50" fill="#fff" stroke="#000" stroke-width="1.9"/>
<line x1="313.79" x2="354.11" y1="597.60" y2="597.60" stroke="#000" stroke-width="3.2"/>
<line x1="387.70" x2="387.70" y1="495.60" y2="498.10" stroke="#000" stroke-width="1.9"/>
<line x1="387.70" x2="387.70" y1="548.60" y2="595.10" stroke="#000" stroke-width="1.9"/>
<rect x="367.54" y="498.10" width="40.31" height="50.50" fill="#fff" stroke="#000" stroke-width="1.9"/>
<line x1="367.54" x2="407.86" y1="508.50" y2="508.50" stroke="#000" stroke-width="3.2"/>
<rect x="421.29" y="483.40" width="40.31" height="38.00" fill="#fff" stroke="#000" stroke-width="1.9"/>
<line x1="421.29" x2="461.61" y1="518.70" y2="518.70" stroke="#000" stroke-width="3.2"/>
<circle cx="333.95" cy="581.30" r="3.3" fill="#000"/>
<circle cx="333.95" cy="597.60" r="3.3" fill="#000"/>
<circle cx="333.95" cy="625.30" r="3.3" fill="#000"/>
<circle cx="385.20" cy="495.60" r="3.3" fill="#000"/>
<circle cx="390.20" cy="495.60" r="3.3" fill="#000"/>
<circle cx="387.70" cy="508.50" r="3.3" fill="#000"/>
<circle cx="387.70" cy="548.60" r="3.3" fill="#000"/>
<circle cx="387.70" cy="595.10" r="3.3" fill="#000"/>
<circle cx="438.55" cy="483.40" r="3.3" fill="#000"/>
<circle cx="444.35" cy="483.40" r="3.3" fill="#000"/>
<circle cx="438.55" cy="520.70" r="3.3" fill="#000"/>
<circle cx="444.35" cy="520.70" r="3.3" fill="#000"/>
<circle cx="441.45" cy="642.00" r="3.3" fill="#000"/>
<text x="311.9" y="482.30" font-size="15.2" word-spacing="0.9" class="an">Anova, p = 0.15</text>
</g>
<rect x="301.7" y="472.5" width="172.00" height="180.00" fill="none" stroke="#3e3e3e" stroke-width="1.6"/>
<line x1="297.00" x2="301.20" y1="480.90" y2="480.90" stroke="#111" stroke-width="1.9"/>
<text x="294.10" y="485.40" font-size="12.65" text-anchor="end">100</text>
<line x1="297.00" x2="301.20" y1="513.33" y2="513.33" stroke="#111" stroke-width="1.9"/>
<text x="294.10" y="517.83" font-size="12.65" text-anchor="end">50</text>
<line x1="297.00" x2="301.20" y1="545.75" y2="545.75" stroke="#111" stroke-width="1.9"/>
<text x="294.10" y="550.25" font-size="12.65" text-anchor="end">0</text>
<line x1="297.00" x2="301.20" y1="578.17" y2="578.17" stroke="#111" stroke-width="1.9"/>
<text x="294.10" y="582.67" font-size="12.65" text-anchor="end">−50</text>
<line x1="297.00" x2="301.20" y1="610.60" y2="610.60" stroke="#111" stroke-width="1.9"/>
<text x="294.10" y="615.10" font-size="12.65" text-anchor="end">−100</text>
<line x1="297.00" x2="301.20" y1="643.03" y2="643.03" stroke="#111" stroke-width="1.9"/>
<text x="294.10" y="647.53" font-size="12.65" text-anchor="end">−150</text>
<line x1="333.95" x2="333.95" y1="653.00" y2="657.20" stroke="#111" stroke-width="1.9"/>
<text x="333.95" y="669.80" font-size="12.65" text-anchor="middle">long</text>
<line x1="387.70" x2="387.70" y1="653.00" y2="657.20" stroke="#111" stroke-width="1.9"/>
<text x="387.70" y="669.80" font-size="12.65" text-anchor="middle">medium</text>
<line x1="441.45" x2="441.45" y1="653.00" y2="657.20" stroke="#111" stroke-width="1.9"/>
<text x="441.45" y="669.80" font-size="12.65" text-anchor="middle">short</text>
<text x="387.30" y="688.30" font-size="15.7" text-anchor="middle" class="T">survival_group</text>
<text transform="translate(257.6,562.50) rotate(-90)" font-size="15.7" text-anchor="middle" class="T">GCESS 8 G2/M checkpoint</text>
</g>
<g id="p9">
<clipPath id="c8"><rect x="545.2" y="472.5" width="171.80" height="180.00"/></clipPath>
<g clip-path="url(#c8)">
<line x1="545.2" x2="717.0" y1="494.22" y2="494.22" stroke="#e9e9e9" stroke-width="1.4"/>
<line x1="545.2" x2="717.0" y1="544.57" y2="544.57" stroke="#e9e9e9" stroke-width="1.4"/>
<line x1="545.2" x2="717.0" y1="594.92" y2="594.92" stroke="#e9e9e9" stroke-width="1.4"/>
<line x1="545.2" x2="717.0" y1="645.28" y2="645.28" stroke="#e9e9e9" stroke-width="1.4"/>
<line x1="545.2" x2="717.0" y1="519.40" y2="519.40" stroke="#dcdcdc" stroke-width="1.9"/>
<line x1="545.2" x2="717.0" y1="569.75" y2="569.75" stroke="#dcdcdc" stroke-width="1.9"/>
<line x1="545.2" x2="717.0" y1="620.10" y2="620.10" stroke="#dcdcdc" stroke-width="1.9"/>
<line x1="577.41" x2="577.41" y1="472.5" y2="652.5" stroke="#dddddd" stroke-width="2.0"/>
<line x1="631.10" x2="631.10" y1="472.5" y2="652.5" stroke="#dddddd" stroke-width="2.0"/>
<line x1="684.79" x2="684.79" y1="472.5" y2="652.5" stroke="#dddddd" stroke-width="2.0"/>
<line x1="577.41" x2="577.41" y1="514.80" y2="524.90" stroke="#000" stroke-width="1.9"/>
<rect x="557.28" y="504.30" width="40.27" height="10.50" fill="#fff" stroke="#000" stroke-width="1.9"/>
<line x1="557.28" x2="597.55" y1="504.80" y2="504.80" stroke="#000" stroke-width="3.2"/>
<line x1="631.10" x2="631.10" y1="631.90" y2="641.90" stroke="#000" stroke-width="1.9"/>
<rect x="610.97" y="575.90" width="40.27" height="56.00" fill="#fff" stroke="#000" stroke-width="1.9"/>
<line x1="610.97" x2="651.23" y1="609.00" y2="609.00" stroke="#000" stroke-width="3.2"/>
<line x1="684.79" x2="684.79" y1="538.30" y2="554.10" stroke="#000" stroke-width="1.9"/>
<line x1="684.79" x2="684.79" y1="608.50" y2="641.10" stroke="#000" stroke-width="1.9"/>
<rect x="664.65" y="554.10" width="40.27" height="54.40" fill="#fff" stroke="#000" stroke-width="1.9"/>
<line x1="664.65" x2="704.92" y1="588.40" y2="588.40" stroke="#000" stroke-width="3.2"/>
<circle cx="574.66" cy="504.60" r="3.3" fill="#000"/>
<circle cx="580.16" cy="504.60" r="3.3" fill="#000"/>
<circle cx="577.41" cy="524.90" r="3.3" fill="#000"/>
<circle cx="631.10" cy="483.40" r="3.3" fill="#000"/>
<circle cx="631.10" cy="575.90" r="3.3" fill="#000"/>
<circle cx="631.10" cy="609.00" r="3.3" fill="#000"/>
<circle cx="631.10" cy="631.90" r="3.3" fill="#000"/>
<circle cx="631.10" cy="641.90" r="3.3" fill="#000"/>
<circle cx="684.79" cy="538.30" r="3.3" fill="#000"/>
<circle cx="684.79" cy="554.10" r="3.3" fill="#000"/>
<circle cx="684.79" cy="588.40" r="3.3" fill="#000"/>
<circle cx="684.79" cy="608.50" r="3.3" fill="#000"/>
<circle cx="684.79" cy="641.10" r="3.3" fill="#000"/>
<text x="555.6" y="482.30" font-size="15.2" word-spacing="0.9" class="an">Anova, p = 0.11</text>
</g>
<rect x="545.2" y="472.5" width="171.80" height="180.00" fill="none" stroke="#3e3e3e" stroke-width="1.6"/>
<line x1="540.50" x2="544.70" y1="519.40" y2="519.40" stroke="#111" stroke-width="1.9"/>
<text x="537.60" y="523.90" font-size="12.65" text-anchor="end">100</text>
<line x1="540.50" x2="544.70" y1="569.75" y2="569.75" stroke="#111" stroke-width="1.9"/>
<text x="537.60" y="574.25" font-size="12.65" text-anchor="end">0</text>
<line x1="540.50" x2="544.70" y1="620.10" y2="620.10" stroke="#111" stroke-width="1.9"/>
<text x="537.60" y="624.60" font-size="12.65" text-anchor="end">−100</text>
<line x1="577.41" x2="577.41" y1="653.00" y2="657.20" stroke="#111" stroke-width="1.9"/>
<text x="577.41" y="669.80" font-size="12.65" text-anchor="middle">long</text>
<line x1="631.10" x2="631.10" y1="653.00" y2="657.20" stroke="#111" stroke-width="1.9"/>
<text x="631.10" y="669.80" font-size="12.65" text-anchor="middle">medium</text>
<line x1="684.79" x2="684.79" y1="653.00" y2="657.20" stroke="#111" stroke-width="1.9"/>
<text x="684.79" y="669.80" font-size="12.65" text-anchor="middle">short</text>
<text x="630.70" y="688.30" font-size="15.7" text-anchor="middle" class="T">survival_group</text>
<text transform="translate(501.7,562.50) rotate(-90)" font-size="15.7" text-anchor="middle" class="T">GCESS 9 Immune</text>
</g>
</g>
</svg></body></html>
